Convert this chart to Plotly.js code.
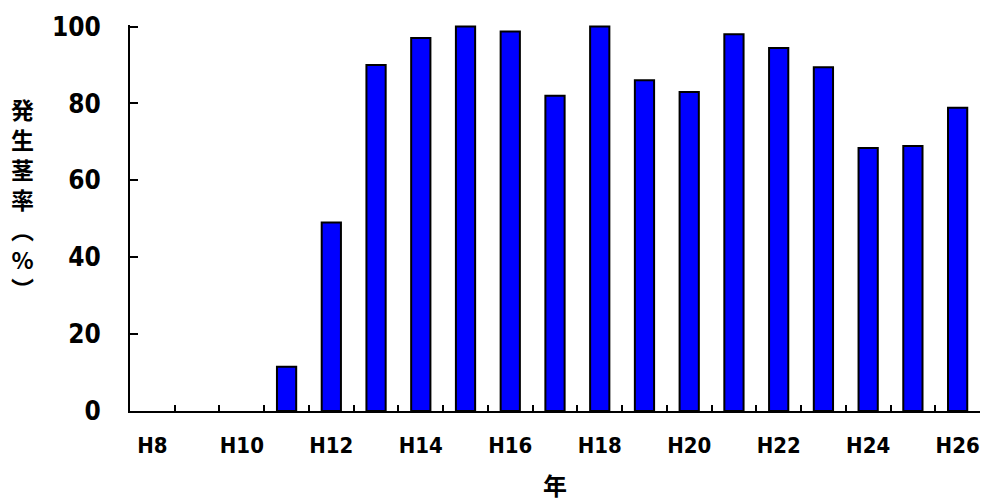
<!DOCTYPE html>
<html>
<head>
<meta charset="utf-8">
<script src="https://cdn.plot.ly/plotly-3.0.1.min.js"></script>
<style>
  html, body { margin: 0; padding: 0; background: #fff; }
  #chart { width: 981px; height: 502px; }
</style>
</head>
<body>
<div id="chart"></div>
<script>
// 年度（平成）
const years = ["H8", "H9", "H10", "H11", "H12", "H13", "H14", "H15", "H16", "H17",
               "H18", "H19", "H20", "H21", "H22", "H23", "H24", "H25", "H26"];
// 発生茎率（%）
const rates = [null, null, null, 11.5, 49, 90, 97, 100, 98.7, 82,
               100, 86, 83, 98, 94.4, 89.4, 68.4, 68.9, 78.9];
// 目盛ラベルは1年おき
const tickLabels = years.map((y, i) => (i % 2 === 0 ? y : ""));

const numFont = '"DejaVu Sans Condensed", "DejaVu Sans", sans-serif';
const jpFont = '"Noto Sans CJK JP", sans-serif';

const trace = {
  type: "bar",
  x: years,
  y: rates,
  marker: { color: "#0000ff", line: { color: "#000000", width: 2 } },
  hoverinfo: "x+y"
};

const layout = {
  width: 981,
  height: 502,
  margin: { l: 130, r: 1, t: 25, b: 91 },
  paper_bgcolor: "#ffffff",
  plot_bgcolor: "#ffffff",
  showlegend: false,
  bargap: 0.57,
  xaxis: {
    type: "category",
    tickvals: years,
    ticktext: tickLabels,
    tickson: "boundaries",
    tickangle: 0,
    ticks: "inside",
    ticklen: 6,
    tickwidth: 2,
    tickcolor: "#000",
    showline: true,
    linecolor: "#000",
    linewidth: 2,
    showgrid: false,
    zeroline: false,
    ticklabelstandoff: 14,
    tickfont: { family: numFont, size: 22, color: "#000", weight: "bold", stretch: "condensed" },
    title: {
      text: "年",
      font: { family: jpFont, size: 24, color: "#000", weight: "bold" },
      standoff: 22
    }
  },
  yaxis: {
    range: [0, 100.4],
    tickvals: [0, 20, 40, 60, 80, 100],
    ticks: "inside",
    ticklen: 8,
    tickwidth: 2,
    tickcolor: "#000",
    showline: true,
    linecolor: "#000",
    linewidth: 2,
    showgrid: false,
    zeroline: false,
    ticklabelstandoff: 22,
    tickfont: { family: numFont, size: 26, color: "#000", weight: "bold", stretch: "condensed" }
  },
  annotations: [{
    text: "発<br>生<br>茎<br>率<br>︵<br>%<br>︶",
    xref: "paper", yref: "paper",
    x: -0.127, y: 0.55,
    xanchor: "center", yanchor: "middle",
    showarrow: false,
    font: { family: jpFont, size: 23, color: "#000", weight: "bold" }
  }]
};

Plotly.newPlot("chart", [trace], layout, { displayModeBar: false, staticPlot: true });
</script>
</body>
</html>
